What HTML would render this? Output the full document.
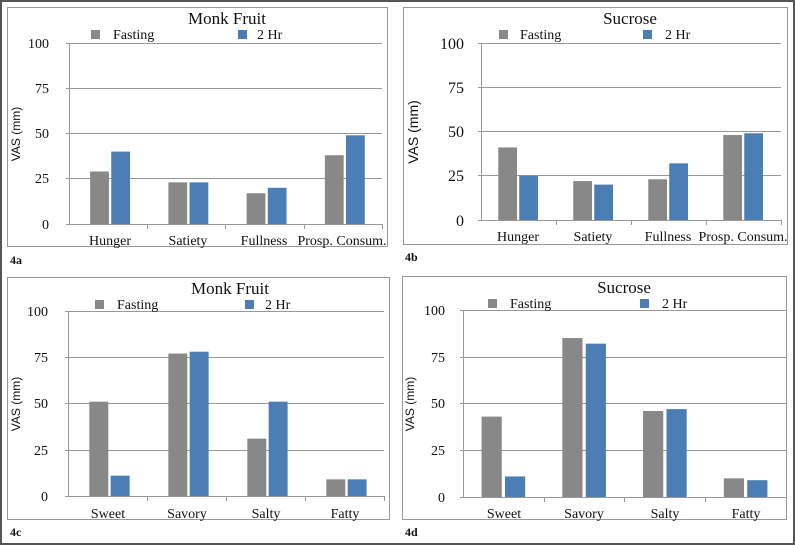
<!DOCTYPE html>
<html><head><meta charset="utf-8"><style>
html,body{margin:0;padding:0;background:#fff;}
svg{display:block;font-family:"Liberation Serif",serif;}
</style></head><body>
<svg width="795" height="545" viewBox="0 0 795 545" xmlns="http://www.w3.org/2000/svg">
<rect x="0" y="0" width="795" height="545" fill="#fff"/>
<rect x="1" y="1" width="793" height="543" fill="none" stroke="#555" stroke-width="2"/>

<rect x="7.5" y="7.5" width="380" height="239" fill="none" stroke="#999"/>
<rect x="403.5" y="7.5" width="384" height="237" fill="none" stroke="#999"/>
<rect x="7.5" y="277.5" width="382" height="242" fill="none" stroke="#999"/>
<rect x="402.5" y="276.5" width="384" height="243" fill="none" stroke="#999"/>

<g font-weight="bold" font-size="12" fill="#111">
<text x="10" y="264">4a</text>
<text x="405" y="261">4b</text>
<text x="10" y="536">4c</text>
<text x="405" y="536">4d</text>
</g>

<!-- ===== 4a ===== -->
<g stroke="#999" stroke-width="1">
<line x1="66" x2="382" y1="43.5" y2="43.5"/><line x1="66" x2="382" y1="88.5" y2="88.5"/>
<line x1="66" x2="382" y1="133.5" y2="133.5"/><line x1="66" x2="382" y1="178.5" y2="178.5"/>
<line x1="69.5" x2="69.5" y1="43" y2="224"/>
<line x1="66" x2="382" y1="224.5" y2="224.5"/>
<line x1="147.5" x2="147.5" y1="224" y2="229"/><line x1="225.5" x2="225.5" y1="224" y2="229"/><line x1="304.5" x2="304.5" y1="224" y2="229"/><line x1="382.5" x2="382.5" y1="224" y2="229"/>
</g>
<g transform="translate(69,224) scale(0.7825,-1.81)">
<rect x="27" y="0" width="24" height="29" fill="#888"/><rect x="54" y="0" width="24" height="40" fill="#4a7eb5"/>
<rect x="127" y="0" width="24" height="23" fill="#888"/><rect x="154" y="0" width="24" height="23" fill="#4a7eb5"/>
<rect x="227" y="0" width="24" height="17" fill="#888"/><rect x="254" y="0" width="24" height="20" fill="#4a7eb5"/>
<rect x="327" y="0" width="24" height="38" fill="#888"/><rect x="354" y="0" width="24" height="49" fill="#4a7eb5"/>
</g>
<g font-size="14" fill="#111" text-anchor="end">
<text x="49" y="48">100</text><text x="49" y="93">75</text><text x="49" y="138">50</text><text x="49" y="183">25</text><text x="49" y="229">0</text>
</g>
<g font-size="14" fill="#111" text-anchor="middle">
<text x="110" y="245">Hunger</text><text x="188" y="245">Satiety</text><text x="264" y="245">Fullness</text><text x="342" y="245">Prosp. Consum.</text>
</g>
<text x="227" y="24" font-size="17" text-anchor="middle" fill="#111">Monk Fruit</text>
<rect x="91" y="30" width="9" height="9" fill="#888"/><text x="113" y="39" font-size="14" fill="#111">Fasting</text>
<rect x="238" y="30" width="9" height="9" fill="#4a7eb5"/><text x="257" y="39" font-size="14" fill="#111">2 Hr</text>
<text transform="translate(20,134) rotate(-90)" font-family="Liberation Sans,sans-serif" font-size="12" text-anchor="middle" fill="#111">VAS (mm)</text>

<!-- ===== 4b ===== -->
<g stroke="#999" stroke-width="1">
<line x1="478" x2="781" y1="43.5" y2="43.5"/><line x1="478" x2="781" y1="87.5" y2="87.5"/>
<line x1="478" x2="781" y1="131.5" y2="131.5"/><line x1="478" x2="781" y1="175.5" y2="175.5"/>
<line x1="481.5" x2="481.5" y1="43" y2="220"/>
<line x1="478" x2="781" y1="220.5" y2="220.5"/>
<line x1="556.5" x2="556.5" y1="220" y2="225"/><line x1="631.5" x2="631.5" y1="220" y2="225"/><line x1="706.5" x2="706.5" y1="220" y2="225"/><line x1="781.5" x2="781.5" y1="220" y2="225"/>
</g>
<g transform="translate(481,220) scale(0.75,-1.77)">
<rect x="23" y="0" width="25" height="41" fill="#888"/><rect x="51" y="0" width="25" height="25" fill="#4a7eb5"/>
<rect x="123" y="0" width="25" height="22" fill="#888"/><rect x="151" y="0" width="25" height="20" fill="#4a7eb5"/>
<rect x="223" y="0" width="25" height="23" fill="#888"/><rect x="251" y="0" width="25" height="32" fill="#4a7eb5"/>
<rect x="323" y="0" width="25" height="48" fill="#888"/><rect x="351" y="0" width="25" height="49" fill="#4a7eb5"/>
</g>
<g font-size="16" fill="#111" text-anchor="end">
<text x="464" y="49">100</text><text x="464" y="93">75</text><text x="464" y="137">50</text><text x="464" y="181">25</text><text x="464" y="226">0</text>
</g>
<g font-size="14" fill="#111" text-anchor="middle">
<text x="518" y="241">Hunger</text><text x="593" y="241">Satiety</text><text x="668" y="241">Fullness</text><text x="743" y="241">Prosp. Consum.</text>
</g>
<text x="630" y="24" font-size="17" text-anchor="middle" fill="#111">Sucrose</text>
<rect x="499" y="30" width="9" height="9" fill="#888"/><text x="520" y="39" font-size="14" fill="#111">Fasting</text>
<rect x="643" y="30" width="9" height="9" fill="#4a7eb5"/><text x="665" y="39" font-size="14" fill="#111">2 Hr</text>
<text transform="translate(418,132) rotate(-90)" font-family="Liberation Sans,sans-serif" font-size="14" text-anchor="middle" fill="#111">VAS (mm)</text>

<!-- ===== 4c ===== -->
<g stroke="#999" stroke-width="1">
<line x1="65" x2="384" y1="311.5" y2="311.5"/><line x1="65" x2="384" y1="357.5" y2="357.5"/>
<line x1="65" x2="384" y1="403.5" y2="403.5"/><line x1="65" x2="384" y1="450.5" y2="450.5"/>
<line x1="68.5" x2="68.5" y1="311" y2="496"/>
<line x1="65" x2="384" y1="496.5" y2="496.5"/>
<line x1="147.5" x2="147.5" y1="496" y2="501"/><line x1="226.5" x2="226.5" y1="496" y2="501"/><line x1="305.5" x2="305.5" y1="496" y2="501"/><line x1="384.5" x2="384.5" y1="496" y2="501"/>
</g>
<g transform="translate(68,496) scale(0.79,-1.85)">
<rect x="27" y="0" width="24" height="51" fill="#888"/><rect x="54" y="0" width="24" height="11" fill="#4a7eb5"/>
<rect x="127" y="0" width="24" height="77" fill="#888"/><rect x="154" y="0" width="24" height="78" fill="#4a7eb5"/>
<rect x="227" y="0" width="24" height="31" fill="#888"/><rect x="254" y="0" width="24" height="51" fill="#4a7eb5"/>
<rect x="327" y="0" width="24" height="9" fill="#888"/><rect x="354" y="0" width="24" height="9" fill="#4a7eb5"/>
</g>
<g font-size="14" fill="#111" text-anchor="end">
<text x="48" y="316">100</text><text x="48" y="362">75</text><text x="48" y="408">50</text><text x="48" y="455">25</text><text x="48" y="501">0</text>
</g>
<g font-size="14" fill="#111" text-anchor="middle">
<text x="108" y="518">Sweet</text><text x="187" y="518">Savory</text><text x="266" y="518">Salty</text><text x="345" y="518">Fatty</text>
</g>
<text x="230" y="294" font-size="17" text-anchor="middle" fill="#111">Monk Fruit</text>
<rect x="95" y="300" width="9" height="9" fill="#888"/><text x="117" y="309" font-size="14" fill="#111">Fasting</text>
<rect x="245" y="300" width="9" height="9" fill="#4a7eb5"/><text x="265" y="309" font-size="14" fill="#111">2 Hr</text>
<text transform="translate(20,404) rotate(-90)" font-family="Liberation Sans,sans-serif" font-size="12" text-anchor="middle" fill="#111">VAS (mm)</text>

<!-- ===== 4d ===== -->
<g stroke="#999" stroke-width="1">
<line x1="460" x2="786" y1="310.5" y2="310.5"/><line x1="460" x2="786" y1="357.5" y2="357.5"/>
<line x1="460" x2="786" y1="403.5" y2="403.5"/><line x1="460" x2="786" y1="450.5" y2="450.5"/>
<line x1="463.5" x2="463.5" y1="310" y2="497"/>
<line x1="460" x2="786" y1="497.5" y2="497.5"/>
<line x1="544.5" x2="544.5" y1="497" y2="502"/><line x1="624.5" x2="624.5" y1="497" y2="502"/><line x1="705.5" x2="705.5" y1="497" y2="502"/><line x1="786.5" x2="786.5" y1="497" y2="502"/>
</g>
<g transform="translate(463,497) scale(0.8075,-1.87)">
<rect x="23" y="0" width="25" height="43" fill="#888"/><rect x="52" y="0" width="25" height="11" fill="#4a7eb5"/>
<rect x="123" y="0" width="25" height="85" fill="#888"/><rect x="152" y="0" width="25" height="82" fill="#4a7eb5"/>
<rect x="223" y="0" width="25" height="46" fill="#888"/><rect x="252" y="0" width="25" height="47" fill="#4a7eb5"/>
<rect x="323" y="0" width="25" height="10" fill="#888"/><rect x="352" y="0" width="25" height="9" fill="#4a7eb5"/>
</g>
<g font-size="14" fill="#111" text-anchor="end">
<text x="445" y="315">100</text><text x="445" y="362">75</text><text x="445" y="408">50</text><text x="445" y="455">25</text><text x="445" y="502">0</text>
</g>
<g font-size="14" fill="#111" text-anchor="middle">
<text x="504" y="518">Sweet</text><text x="584" y="518">Savory</text><text x="665" y="518">Salty</text><text x="746" y="518">Fatty</text>
</g>
<text x="624" y="293" font-size="17" text-anchor="middle" fill="#111">Sucrose</text>
<rect x="488" y="299" width="9" height="9" fill="#888"/><text x="510" y="308" font-size="14" fill="#111">Fasting</text>
<rect x="640" y="299" width="9" height="9" fill="#4a7eb5"/><text x="662" y="308" font-size="14" fill="#111">2 Hr</text>
<text transform="translate(414,404) rotate(-90)" font-family="Liberation Sans,sans-serif" font-size="12" text-anchor="middle" fill="#111">VAS (mm)</text>
</svg>
</body></html>
